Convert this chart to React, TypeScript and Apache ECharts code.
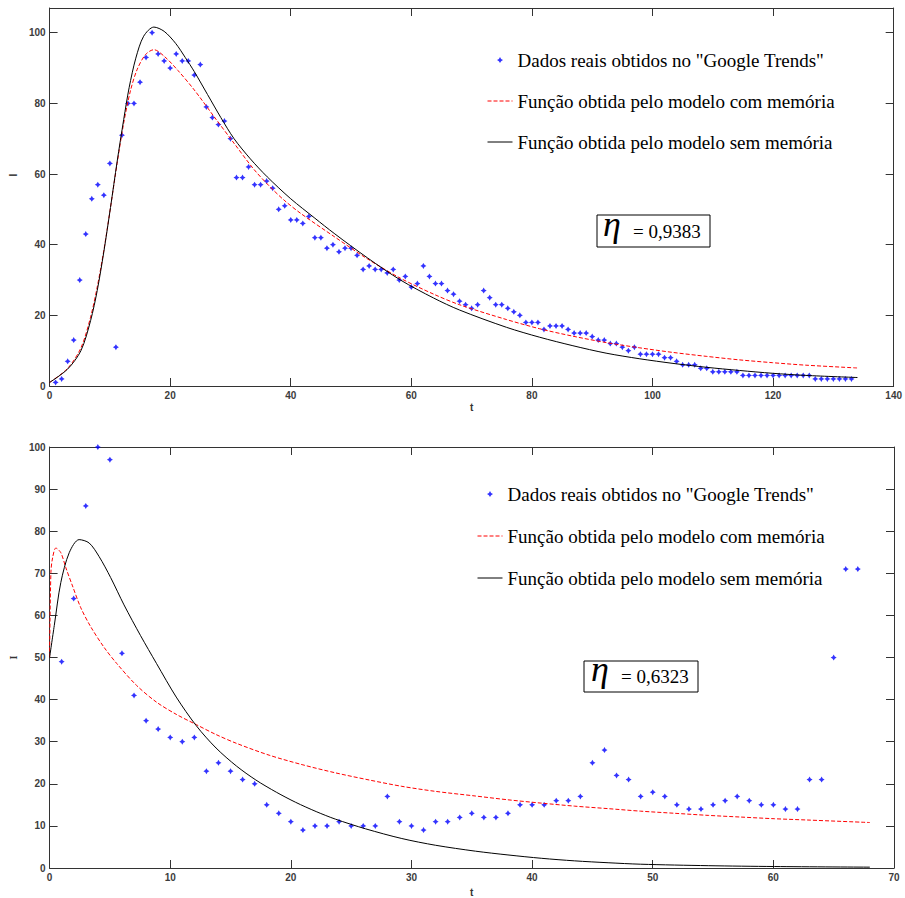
import { useEffect, useRef } from 'react';
import * as echarts from 'echarts';

// ---------- data ----------
const seriesNames = [
  'Dados reais obtidos no "Google Trends"',
  'Função obtida pelo modelo com memória',
  'Função obtida pelo modelo sem memória',
];

// top chart: observed values for t = 1..133
const topObserved = [
  1, 2, 7, 13, 30, 43, 53, 57, 54, 63,
  11, 71, 80, 80, 86, 93, 100, 94, 92, 90,
  94, 92, 92, 88, 91, 79, 76, 74, 75, 70,
  59, 59, 62, 57, 57, 58, 56, 50, 51, 47,
  47, 46, 48, 42, 42, 39, 40, 38, 39, 39,
  37, 33, 34, 33, 33, 32, 33, 30, 31, 28,
  29, 34, 31, 29, 29, 27, 26, 24, 23, 22,
  23, 27, 25, 23, 23, 22, 21, 20, 18, 18,
  18, 16, 17, 17, 17, 16, 15, 15, 15, 14,
  13, 13, 12, 12, 11, 10, 11, 9, 9, 9,
  9, 8, 8, 7, 6, 6, 6, 5, 5, 4,
  4, 4, 4, 4, 3, 3, 3, 3, 3, 3,
  3, 3, 3, 3, 3, 3, 2, 2, 2, 2,
  2, 2, 2,
];

const topWithMemory: [number, number][] = [
  [0, 1], [3, 5], [5.2, 10.8], [6.8, 19.5], [7.9, 28], [9, 38.4], [10.1, 50.5],
  [11.2, 63], [12.3, 74.5], [13.4, 83.5], [14.5, 89.5], [15.9, 93.8], [17.3, 95.2],
  [19.1, 93.2], [21.3, 89.3], [24, 83.8], [27.3, 76.2], [30.6, 68.7], [33.9, 61.3],
  [36.5, 56.5], [38.9, 52.6], [41.7, 48.8], [47.2, 42.3], [52.7, 36], [58.2, 30.5],
  [63.7, 26], [68, 23], [75.8, 18.8], [81.3, 16.2], [86.8, 14.1], [92.3, 12.3],
  [97.9, 10.8], [103.4, 9.5], [108.9, 8.4], [114.4, 7.4], [119.9, 6.6], [125.4, 5.9],
  [134, 5.1],
];

const topWithoutMemory: [number, number][] = [
  [0, 1], [3, 4.8], [5.2, 10], [6.8, 18.5], [7.9, 27], [9, 38], [10.1, 50.5],
  [11.2, 63.5], [12.3, 75.5], [13.2, 84.5], [14.3, 92.8], [15.6, 99], [17.3, 101.6],
  [19, 100.4], [20.9, 97], [22.5, 93], [24, 89], [26.2, 82.5], [28.4, 76], [30.6, 70],
  [33.3, 64.3], [36.1, 59.2], [40, 53], [44, 47.5], [47.2, 43.2], [52.7, 36.3],
  [58.2, 30], [63.7, 24.9], [68, 21.5], [75.8, 16.6], [81.3, 13.8], [86.8, 11.4],
  [92.3, 9.3], [97.9, 7.7], [103.4, 6.4], [108.9, 5.3], [114.4, 4.4], [119.9, 3.6],
  [125.4, 3.0], [134, 2.4],
];

// bottom chart: observed values for t = 1..67
const bottomObserved = [
  49, 64, 86, 100, 97, 51, 41, 35, 33, 31,
  30, 31, 23, 25, 23, 21, 20, 15, 13, 11,
  9, 10, 10, 11, 10, 10, 10, 17, 11, 10,
  9, 11, 11, 12, 13, 12, 12, 13, 15, 15,
  15, 16, 16, 17, 25, 28, 22, 21, 17, 18,
  17, 15, 14, 14, 15, 16, 17, 16, 15, 15,
  14, 14, 21, 21, 50, 71, 71,
];

const bottomWithMemory: [number, number][] = [
  [0, 50], [0.11, 70.2], [0.25, 73.7], [0.52, 76], [0.93, 74.9], [1.35, 71.3],
  [1.9, 67], [2.59, 61.8], [3.41, 57.3], [4.52, 52.4], [5.56, 48.6], [7.2, 43.4],
  [8.86, 39.4], [10.5, 36.5], [12.2, 34], [13.8, 31.7], [15.5, 29.6], [18.2, 26.8],
  [21, 24.5], [23.7, 22.6], [26.5, 20.9], [29.2, 19.4], [32, 18.2], [35.3, 17.1],
  [38, 16.2], [40.8, 15.4], [43.5, 14.7], [46.3, 14.1], [49, 13.5], [51.8, 13.0],
  [54.6, 12.5], [57.3, 12.1], [60.1, 11.7], [62.8, 11.4], [68, 10.8],
];

const bottomWithoutMemory: [number, number][] = [
  [0, 50], [0.39, 57.6], [0.93, 67.8], [1.63, 74.9], [2.45, 78], [3.28, 77.2],
  [4.1, 74], [5.06, 69], [6.17, 62.5], [7.54, 55.2], [8.86, 48.6], [10.5, 40.6],
  [12.16, 33.8], [13.8, 28.5], [15.5, 24.2], [17.1, 20.9], [18.8, 18], [20.4, 15.6],
  [22.1, 13.4], [23.7, 11.6], [26.2, 9.3], [29.2, 7.0], [32, 5.4], [35.3, 4.0],
  [38, 3.1], [40.8, 2.3], [43.5, 1.7], [46.3, 1.25], [49, 0.9], [54.6, 0.55],
  [60.1, 0.35], [68, 0.2],
];

const etaTop = '= 0,9383';
const etaBottom = '= 0,6323';

// ---------- styling helpers ----------
const AXIS_COLOR = '#333';
const LABEL_COLOR = '#3c3c3c';
const SERIF = '"Liberation Serif", "Times New Roman", serif';
const SANS = '"Liberation Sans", Arial, sans-serif';
const STAR = 'path://M0,-4L1.5,-1.5L4,0L1.5,1.5L0,4L-1.5,1.5L-4,0L-1.5,-1.5Z';

const baseAxis = {
  type: 'value' as const,
  axisLine: { show: true, onZero: false, lineStyle: { color: AXIS_COLOR, width: 1 } },
  axisTick: { show: true, inside: true, length: 8, lineStyle: { color: AXIS_COLOR } },
  splitLine: { show: false },
  axisLabel: {
    color: LABEL_COLOR,
    fontFamily: SANS,
    fontWeight: 'bold' as const,
    fontSize: 10,
    margin: 4,
  },
};

const nameStyle = { color: '#333', fontFamily: SANS, fontSize: 10, fontWeight: 'bold' as const };

function observedPoints(values: number[]): [number, number][] {
  return values.map((v, i) => [i + 1, v]);
}

export default function App() {
  const ref = useRef<HTMLDivElement>(null);

  useEffect(() => {
    if (!ref.current) return;
    const chart = echarts.init(ref.current, undefined, { renderer: 'svg' });

    const legendCommon = {
      orient: 'vertical' as const,
      itemWidth: 25,
      itemHeight: 6,
      selectedMode: false,
      lineStyle: { width: 1 },
      data: [
        { name: seriesNames[0] },
        { name: seriesNames[1], itemStyle: { opacity: 0 } },
        { name: seriesNames[2], itemStyle: { opacity: 0 } },
      ],
      textStyle: { fontFamily: SERIF, fontSize: 19, color: '#000', lineHeight: 20 },
    };

    const scatterBase = {
      type: 'scatter' as const,
      name: seriesNames[0],
      symbol: STAR,
      symbolSize: 6,
      itemStyle: { color: '#0000ff' },
      z: 3,
    };
    const memBase = {
      type: 'line' as const,
      name: seriesNames[1],
      symbol: 'none',
      smooth: 0.3,
      lineStyle: { color: '#ff0000', width: 1, type: [4, 2] as number[] },
      itemStyle: { color: '#ff0000' },
      z: 4,
    };
    const noMemBase = {
      type: 'line' as const,
      name: seriesNames[2],
      symbol: 'none',
      smooth: 0.3,
      lineStyle: { color: '#000', width: 1, type: 'solid' as const },
      itemStyle: { color: '#000' },
      z: 4,
    };

    chart.setOption({
      animation: false,
      backgroundColor: '#fff',
      grid: [
        { left: 48, right: 9, top: 8, bottom: 512 },
        { left: 46, right: 11, top: 447, bottom: 26 },
      ],
      xAxis: [
        {
          ...baseAxis, gridIndex: 0, min: 0, max: 140, interval: 20, position: 'bottom',
          name: 't', nameLocation: 'middle', nameGap: 16, nameTextStyle: nameStyle,
        },
        { ...baseAxis, gridIndex: 0, min: 0, max: 140, interval: 20, position: 'top', axisLabel: { show: false } },
        {
          ...baseAxis, gridIndex: 1, min: 0, max: 70, interval: 10, position: 'bottom',
          name: 't', nameLocation: 'middle', nameGap: 19, nameTextStyle: nameStyle,
        },
        { ...baseAxis, gridIndex: 1, min: 0, max: 70, interval: 10, position: 'top', axisLabel: { show: false } },
      ],
      yAxis: [
        {
          ...baseAxis, gridIndex: 0, min: 0, max: 107, interval: 20, position: 'left',
          axisLabel: { ...baseAxis.axisLabel, showMaxLabel: false },
          name: 'I', nameLocation: 'middle', nameRotate: 90, nameGap: 28,
          nameTextStyle: { ...nameStyle, padding: [0, 0, 0, 44] },
        },
        { ...baseAxis, gridIndex: 0, min: 0, max: 107, interval: 20, position: 'right', axisLabel: { show: false } },
        {
          ...baseAxis, gridIndex: 1, min: 0, max: 100, interval: 10, position: 'left',
          name: 'I', nameLocation: 'middle', nameRotate: 90, nameGap: 24,
          nameTextStyle: { ...nameStyle, fontFamily: SERIF },
        },
        { ...baseAxis, gridIndex: 1, min: 0, max: 100, interval: 10, position: 'right', axisLabel: { show: false } },
      ],
      legend: [
        { ...legendCommon, left: 482, top: 45, itemGap: 21 },
        { ...legendCommon, left: 472, top: 479, itemGap: 22 },
      ],
      series: [
        { ...scatterBase, xAxisIndex: 0, yAxisIndex: 0, data: observedPoints(topObserved) },
        { ...memBase, xAxisIndex: 0, yAxisIndex: 0, data: topWithMemory },
        { ...noMemBase, xAxisIndex: 0, yAxisIndex: 0, data: topWithoutMemory },
        { ...scatterBase, xAxisIndex: 2, yAxisIndex: 2, data: observedPoints(bottomObserved) },
        { ...memBase, xAxisIndex: 2, yAxisIndex: 2, data: bottomWithMemory },
        { ...noMemBase, xAxisIndex: 2, yAxisIndex: 2, data: bottomWithoutMemory },
      ],
      graphic: [
        {
          type: 'rect', z: 10,
          shape: { x: 597, y: 215, width: 113, height: 32 },
          style: { fill: '#fff', stroke: '#000', lineWidth: 1 },
        },
        {
          type: 'text', z: 11, x: 603, y: 224,
          style: { text: 'η', fontFamily: SERIF, fontStyle: 'italic', fontSize: 36, fill: '#000', verticalAlign: 'middle' },
        },
        {
          type: 'text', z: 11, x: 633, y: 231,
          style: { text: etaTop, fontFamily: SERIF, fontSize: 19, fill: '#000', verticalAlign: 'middle' },
        },
        {
          type: 'rect', z: 10,
          shape: { x: 584, y: 661, width: 114, height: 31 },
          style: { fill: '#fff', stroke: '#000', lineWidth: 1 },
        },
        {
          type: 'text', z: 11, x: 591, y: 669,
          style: { text: 'η', fontFamily: SERIF, fontStyle: 'italic', fontSize: 36, fill: '#000', verticalAlign: 'middle' },
        },
        {
          type: 'text', z: 11, x: 621, y: 676,
          style: { text: etaBottom, fontFamily: SERIF, fontSize: 19, fill: '#000', verticalAlign: 'middle' },
        },
      ],
    });

    return () => chart.dispose();
  }, []);

  return (
    <div
      ref={ref}
      style={{ position: 'absolute', left: 0, top: 0, width: 905, height: 898, background: '#fff' }}
    />
  );
}
